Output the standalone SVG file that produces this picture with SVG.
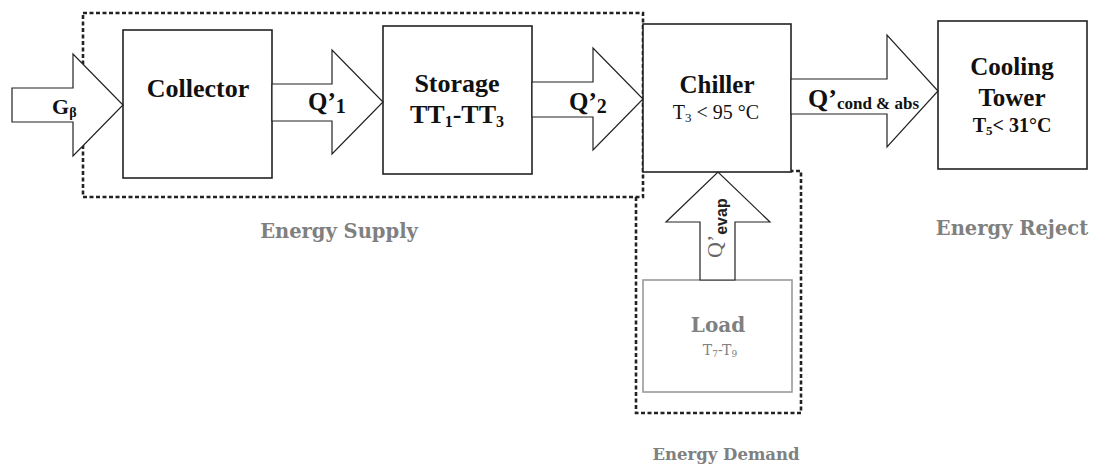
<svg xmlns="http://www.w3.org/2000/svg" width="1103" height="469" viewBox="0 0 1103 469">
<style>
.box{fill:#fff;stroke:#222;stroke-width:1.6}
.gbox{fill:#fff;stroke:#999;stroke-width:1.6}
.arr{fill:#fff;stroke:#222;stroke-width:1.2;stroke-linejoin:miter}
.dash{fill:none;stroke:#222;stroke-width:2.6;stroke-dasharray:4 2.5}
</style>
<rect width="1103" height="469" fill="#fff"/>
<g id="regions">
<rect class="dash" x="83" y="13" width="560" height="184"/>
<polyline class="dash" points="636,197 636,413 801,413 801,171 791,171"/>
</g>
<g id="collector">
<rect class="box" x="123" y="30" width="149" height="148"/>
<text font-family="Liberation Serif, serif" font-weight="bold" fill="#111" x="198" y="97" font-size="26" text-anchor="middle">Collector</text>
</g>
<g id="storage">
<rect class="box" x="383" y="26" width="149" height="148"/>
<text font-family="Liberation Serif, serif" font-weight="bold" fill="#111" x="457" y="92" font-size="26" text-anchor="middle">Storage</text>
<text font-family="Liberation Serif, serif" font-weight="bold" fill="#111" x="457" y="123" font-size="26" text-anchor="middle">TT<tspan font-size="16" dy="4">1</tspan><tspan dy="-4">-TT</tspan><tspan font-size="16" dy="4">3</tspan></text>
</g>
<g id="chiller">
<rect class="box" x="643" y="24" width="148" height="148"/>
<text font-family="Liberation Serif, serif" font-weight="bold" fill="#111" x="717" y="93" font-size="25" text-anchor="middle">Chiller</text>
<text font-family="Liberation Serif, serif" fill="#111" x="716" y="119" font-size="20" text-anchor="middle">T<tspan font-size="13" dy="3">3</tspan><tspan dy="-3"> &lt; 95 °C</tspan></text>
</g>
<g id="cooling-tower">
<rect class="box" x="938" y="21" width="149" height="148"/>
<text font-family="Liberation Serif, serif" font-weight="bold" fill="#111" x="1012" y="75" font-size="25" text-anchor="middle">Cooling</text>
<text font-family="Liberation Serif, serif" font-weight="bold" fill="#111" x="1012" y="106" font-size="25" text-anchor="middle">Tower</text>
<text font-family="Liberation Serif, serif" font-weight="bold" fill="#111" x="1012" y="132" font-size="20" text-anchor="middle">T<tspan font-size="13" dy="3">5</tspan><tspan dy="-3">&lt; 31°C</tspan></text>
</g>
<g id="load">
<rect class="gbox" x="643" y="280" width="149" height="112"/>
<text font-family="DejaVu Serif, serif" font-weight="bold" fill="#808080" x="718" y="332" font-size="20" text-anchor="middle">Load</text>
<text x="720" y="355" font-size="14" text-anchor="middle" font-family="DejaVu Serif, serif" fill="#808080">T<tspan font-size="9" dy="2">7</tspan><tspan dy="-2">-T</tspan><tspan font-size="9" dy="2">9</tspan></text>
</g>
<g id="connectors">
<polygon class="arr" points="12,88 73,88 73,54 123,105 73,156 73,122 12,122"/>
<polygon class="arr" points="272,84 332,84 332,50 383,102 332,154 332,121 272,121"/>
<polygon class="arr" points="532,82 593,82 593,48 643,99 593,150 593,117 532,117"/>
<polygon class="arr" points="791,79 887,79 887,35 938,91 887,147 887,114 791,114"/>
<polygon class="arr" points="700,280 700,222 666,222 718,172 770,222 735,222 735,280"/>
<text font-family="Liberation Serif, serif" font-weight="bold" fill="#111" x="52" y="114" font-size="22">G<tspan font-size="14" dy="3">β</tspan></text>
<text font-family="Liberation Serif, serif" font-weight="bold" fill="#111" x="308" y="110" font-size="25">Q’<tspan font-size="20" dy="3">1</tspan></text>
<text font-family="Liberation Serif, serif" font-weight="bold" fill="#111" x="569" y="110" font-size="25">Q’<tspan font-size="20" dy="3">2</tspan></text>
<text font-family="Liberation Serif, serif" font-weight="bold" fill="#111" x="808" y="107" font-size="26">Q’<tspan font-size="17" dy="2">cond &amp; abs</tspan></text>
<text transform="translate(722,258) rotate(-90)" font-family="Liberation Serif, serif" font-size="22" fill="#666">Q’<tspan font-family="Liberation Sans, sans-serif" font-weight="bold" font-size="16" dy="5" fill="#222">evap</tspan></text>
</g>
<g id="labels">
<text font-family="DejaVu Serif, serif" font-weight="bold" fill="#808080" x="339" y="238" font-size="19.5" text-anchor="middle">Energy Supply</text>
<text font-family="DejaVu Serif, serif" font-weight="bold" fill="#808080" x="1012" y="235" font-size="19.5" text-anchor="middle">Energy Reject</text>
<text font-family="DejaVu Serif, serif" font-weight="bold" fill="#808080" x="726" y="460" font-size="16.5" text-anchor="middle">Energy Demand</text>
</g>
</svg>
